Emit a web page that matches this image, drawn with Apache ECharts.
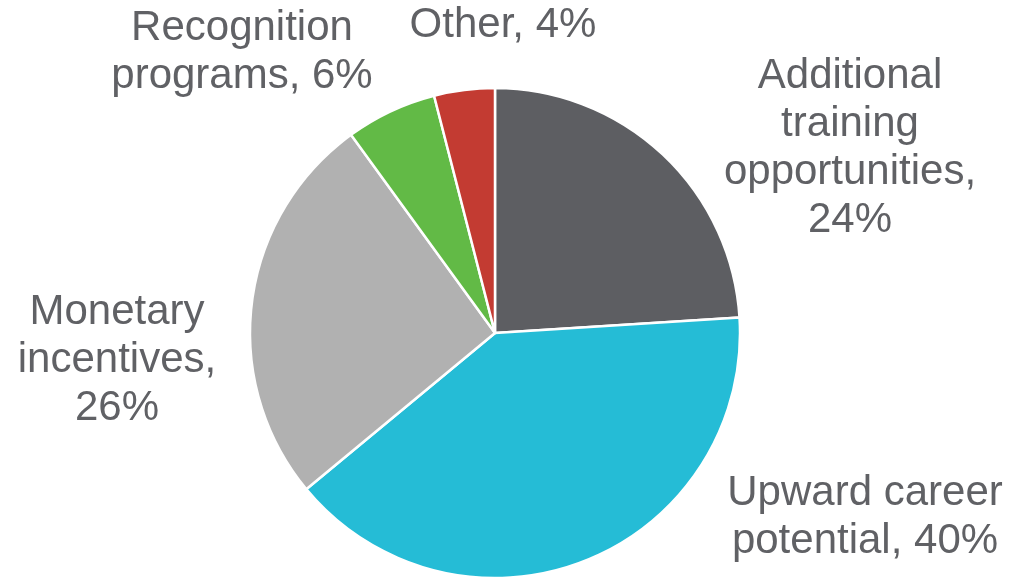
<!DOCTYPE html>
<html>
<head>
<meta charset="utf-8">
<script src="https://cdn.jsdelivr.net/npm/echarts@6/dist/echarts.min.js"></script>
<style>
html,body{margin:0;padding:0;background:#fff;}
#chart{width:1013px;height:580px;}
</style>
</head>
<body>
<div id="chart"></div>
<script>
const categories = ['Additional\ntraining\nopportunities', 'Upward career\npotential', 'Monetary\nincentives', 'Recognition\nprograms', 'Other'];
const values = [24, 40, 26, 6, 4];
const colors = ['#5D5E62', '#25BCD6', '#B1B1B1', '#62BA46', '#C33B32'];
const labelSuffixBreak = [true, false, true, false, false];

const labelPos = [
  [850, 148],
  [865, 517],
  [117, 360],
  [242, 52],
  [503, 25]
];

const data = categories.map((c, i) => ({
  name: c,
  value: values[i],
  itemStyle: { color: colors[i] }
}));

const chart = echarts.init(document.getElementById('chart'));
chart.setOption({
  animation: false,
  backgroundColor: '#fff',
  series: [{
    type: 'pie',
    center: [495, 333],
    radius: 245,
    startAngle: 90,
    clockwise: true,
    data: data,
    itemStyle: { borderColor: '#fff', borderWidth: 2.5 },
    label: {
      show: true,
      position: 'outside',
      fontFamily: 'Liberation Sans, Arial, sans-serif',
      fontSize: 42,
      lineHeight: 48,
      color: '#606165',
      align: 'center',
      overflow: 'none',
      formatter: (p) => p.name + ',' + (labelSuffixBreak[p.dataIndex] ? '\n' : ' ') + p.value + '%'
    },
    labelLine: { show: false },
    labelLayout: (params) => ({
      x: labelPos[params.dataIndex][0],
      y: labelPos[params.dataIndex][1],
      align: 'center',
      verticalAlign: 'middle'
    })
  }]
});
</script>
</body>
</html>
